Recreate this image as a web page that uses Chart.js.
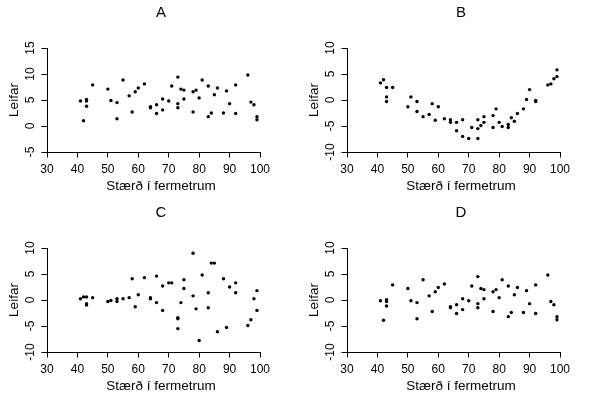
<!DOCTYPE html>
<html><head><meta charset="utf-8">
<script src="https://cdn.jsdelivr.net/npm/chart.js@4.4.1/dist/chart.umd.min.js"></script>
<style>
html,body{margin:0;padding:0;background:#fff;}
#wrap{position:relative;width:600px;height:400px;background:#fff;}
canvas{position:absolute;}
</style></head><body>
<div id="wrap">
<canvas id="cA" width="300" height="200" style="left:0;top:0"></canvas>
<canvas id="cB" width="300" height="200" style="left:300px;top:0"></canvas>
<canvas id="cC" width="300" height="200" style="left:0;top:200px"></canvas>
<canvas id="cD" width="300" height="200" style="left:300px;top:200px"></canvas>
</div>
<script>
// ---- data ----
const panelTitles = ['A', 'B', 'C', 'D'];
const xTitle = 'Stærð í fermetrum';
const yTitle = 'Leifar';
const xTickValues = [30, 40, 50, 60, 70, 80, 90, 100];
const yTicksA = [-5, 0, 5, 10, 15];
const yTicksBCD = [-10, -5, 0, 5, 10];

const xValues = [41,42,43,43,43,45,50,51,53,53,55,57,58,59,60,62,64,64,66,66,68,68,70,71,73,73,73,74,75,75,78,78,79,80,81,83,83,84,85,86,88,89,90,92,92,96,97,98,99,99];

const residA = [4.8,1.0,5.1,4.8,3.8,7.9,7.1,4.9,4.5,1.4,8.85,5.8,2.7,6.6,7.3,8.1,3.7,3.5,4.1,2.4,5.2,3.1,4.8,7.7,9.4,4.3,3.5,7.1,6.9,5.2,2.7,6.6,6.9,5.4,8.85,7.7,1.8,2.5,6.0,7.3,2.5,6.75,4.3,7.9,2.4,9.8,4.6,4.1,1.8,1.2];

const residB = [3.3,3.9,2.4,0.6,-0.3,2.4,-1.3,0.6,-0.3,-2.2,-3.2,-2.8,-0.7,-3.9,-1.3,-3.6,-3.8,-4.3,-4.3,-5.9,-3.8,-7.0,-7.4,-5.3,-3.8,-5.5,-7.4,-4.9,-4.3,-3.2,-3.0,-5.3,-1.7,-4.3,-5.1,-4.7,-5.3,-3.4,-4.1,-2.6,-1.7,0.1,2.0,-0.1,-0.3,2.9,3.1,4.1,4.5,5.8];

const residC = [0.25,0.6,0.6,-0.7,-0.95,0.45,-0.3,-0.1,0.25,-0.3,0.25,0.45,4.1,-1.3,1.0,4.3,0.45,0.25,4.6,-0.5,2.7,-2.0,3.3,3.3,-3.4,-3.6,-5.5,-0.5,3.9,2.2,9.0,0.8,-1.7,-7.8,4.8,1.4,-1.5,7.1,7.1,-6.1,4.1,-5.3,2.5,3.3,1.4,-4.9,-3.8,0.25,1.8,-2.0];

const residD = [-0.13,-3.9,0.06,-0.3,-1.15,2.9,2.2,-0.13,-0.5,-3.6,3.9,0.8,-2.2,1.6,2.4,3.1,-1.3,-1.5,-0.9,-2.6,0.25,-1.85,-0.13,2.7,4.5,-0.7,-1.5,2.2,2.0,0.25,-2.2,1.6,2.0,0.45,3.9,2.7,-3.2,-2.4,1.0,2.4,-2.4,1.8,-0.7,2.9,-2.6,4.8,-0.3,-0.9,-3.2,-3.8];

// ---- drawing ----
const FONT = '"Liberation Sans", Arial, sans-serif';
Chart.defaults.font.family = FONT;
Chart.defaults.font.size = 12;
Chart.defaults.color = '#000';

const measureCtx = document.createElement('canvas').getContext('2d');
measureCtx.font = '12px ' + FONT;
function widestLabel(vals) {
  return Math.max(...vals.map(v => measureCtx.measureText(String(v)).width));
}

const textPlugin = {
  id: 'rText',
  afterDraw(chart, args, opts) {
    const ctx = chart.ctx;
    const ca = chart.chartArea;
    ctx.save();
    ctx.fillStyle = '#000';
    ctx.textAlign = 'center';
    ctx.textBaseline = 'alphabetic';
    ctx.font = '15px ' + FONT;
    ctx.fillText(opts.title, ca.left + 114, 16.5);
    ctx.font = '13.5px ' + FONT;
    ctx.fillText(xTitle, ca.left + 114, 189.5);
    ctx.translate(18.3, (ca.top + ca.bottom) / 2);
    ctx.rotate(-Math.PI / 2);
    ctx.fillText(yTitle, 0, 0);
    ctx.restore();
  }
};

function makeChart(id, title, yVals, yTicks) {
  const pts = xValues.map((x, i) => ({x: x, y: yVals[i]}));
  const yPad = 11.3 - widestLabel(yTicks) / 2;
  return new Chart(document.getElementById(id), {
    type: 'scatter',
    data: {datasets: [{data: pts, pointRadius: 1.7, pointHoverRadius: 1.7, backgroundColor: '#000', borderWidth: 0}]},
    options: {
      responsive: false,
      animation: false,
      events: [],
      layout: {padding: {left: 0, top: 48, right: 40, bottom: 0}},
      plugins: {legend: {display: false}, tooltip: {enabled: false}, title: {display: false}, rText: {title: title}},
      scales: {
        x: {
          type: 'linear', min: xTickValues[0], max: xTickValues[xTickValues.length - 1],
          afterBuildTicks: s => { s.ticks = xTickValues.map(v => ({value: v})); },
          afterFit: s => { s.height = 48; },
          grid: {display: true, drawOnChartArea: false, drawTicks: true, tickLength: 5.5, color: '#000', tickColor: '#000', lineWidth: 1},
          border: {display: true, color: '#000', width: 1},
          ticks: {padding: 5, color: '#000', font: {size: 12}, maxRotation: 0, autoSkip: false}
        },
        y: {
          type: 'linear', min: yTicks[0], max: yTicks[yTicks.length - 1],
          afterBuildTicks: s => { s.ticks = yTicks.map(v => ({value: v})); },
          afterFit: s => { s.width = 47; },
          grid: {display: true, drawOnChartArea: false, drawTicks: true, tickLength: 5.5, color: '#000', tickColor: '#000', lineWidth: 1},
          border: {display: true, color: '#000', width: 1},
          ticks: {padding: yPad, color: '#000', font: {size: 12}, minRotation: 90, maxRotation: 90, crossAlign: 'center', autoSkip: false}
        }
      }
    },
    plugins: [textPlugin]
  });
}

makeChart('cA', panelTitles[0], residA, yTicksA);
makeChart('cB', panelTitles[1], residB, yTicksBCD);
makeChart('cC', panelTitles[2], residC, yTicksBCD);
makeChart('cD', panelTitles[3], residD, yTicksBCD);
</script>
</body></html>
